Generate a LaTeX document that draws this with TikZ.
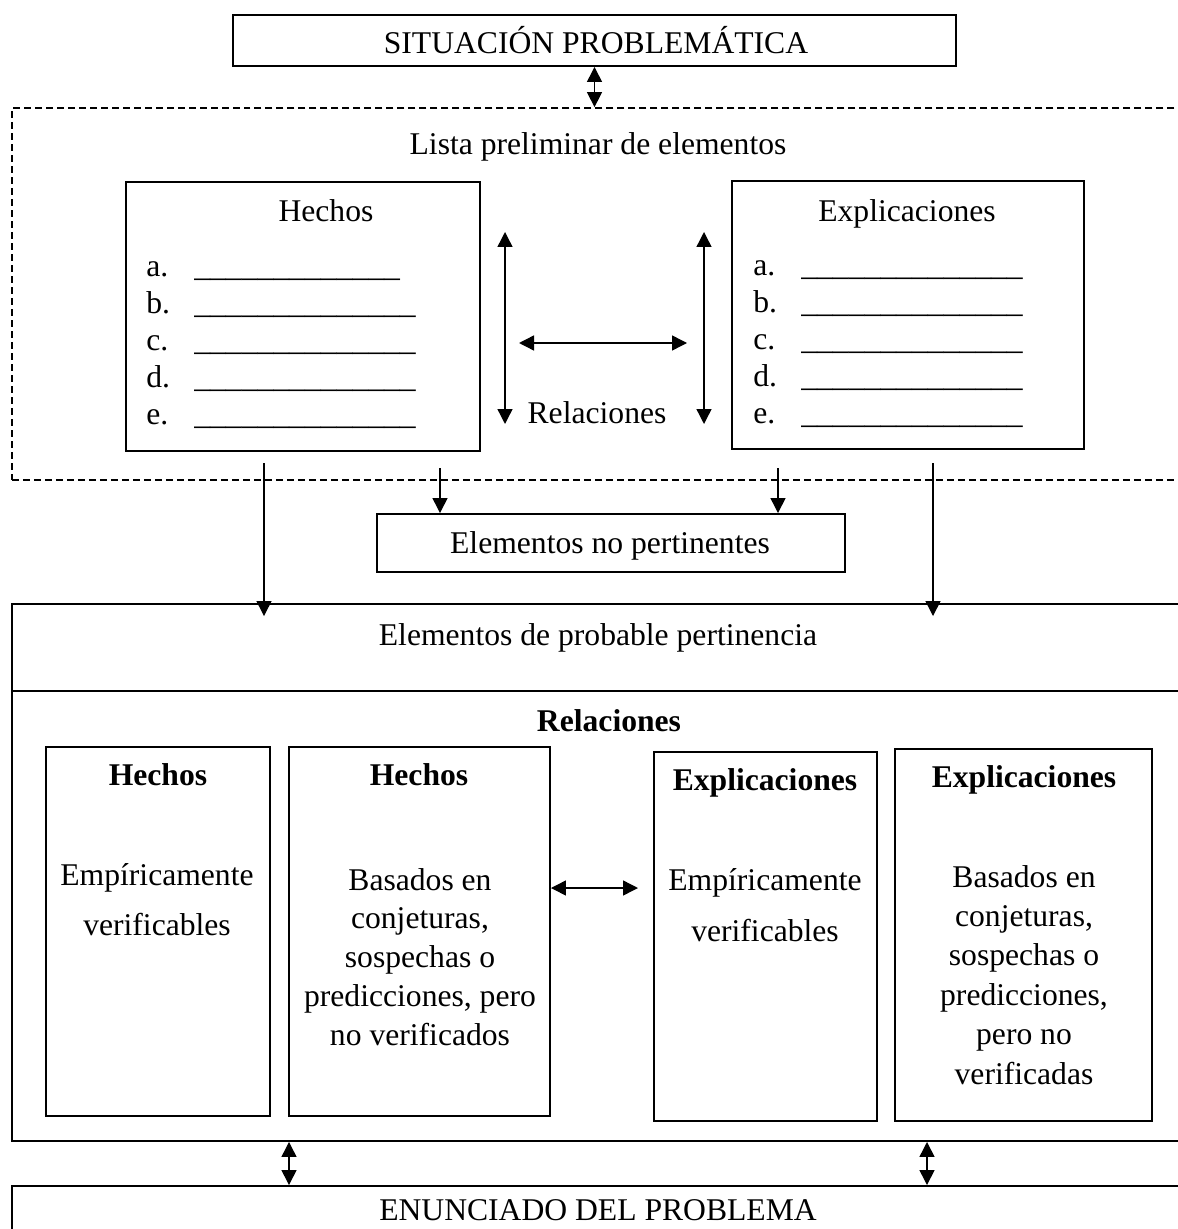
\documentclass[tikz,border=0pt]{standalone}
\usepackage{fontspec}
\setmainfont{Liberation Serif}
\usetikzlibrary{arrows.meta,positioning,fit}
\newcommand{\letra}[1][21pt]{\fontsize{18pt}{#1}\selectfont}
\newcommand{\renglon}[1]{\makebox[0.96cm][l]{#1.}}
\newcommand{\raya}{\_\_\_\_\_\_\_\_\_\_\_\_\_\_}
\tikzset{
  borde/.style={line width=1.1pt},
  caja/.style={draw, borde, inner sep=0pt},
  marco/.style={draw, line width=1pt, dash pattern=on 0.14cm off 0.08cm, inner sep=0pt},
  txt/.style={font=\letra, inner sep=0pt, anchor=base},
  flecha/.style={-{Triangle[length=0.3cm,width=0.3cm]}, line width=0.8pt},
  dflecha/.style={{Triangle[length=0.3cm,width=0.3cm]}-{Triangle[length=0.3cm,width=0.3cm]}, line width=0.8pt}
}

\begin{document}
\begin{tikzpicture}[x=0.02cm, y=-0.02cm]
  \useasboundingbox (0,0) rectangle (1177,1229);

  %--- Situacion problematica ---
  \node[caja, fit={(233,15) (956,66)}] (situacion) {};
  \node[txt] (tsituacion) at (596,54) {SITUACIÓN PROBLEMÁTICA};

  %--- Lista preliminar de elementos ---
  \node[marco, fit={(12,108) (1210,480)}] (lista) {};
  \node[txt] (tlista) at (598,155) {Lista preliminar de elementos};
  \draw[dflecha] (situacion.south) -- (situacion.south |- lista.north);

  % Hechos
  \node[caja, fit={(126,182) (480,451)}] (hechos) {};
  \node[txt] (thechos) at (326,222) {Hechos};
  \node[txt, anchor=base west, align=left, font={\letra[21pt]}] (lhechos) at (146,424)
    {\renglon{a}\_\_\_\_\_\_\_\_\_\_\_\_\_\\ \renglon{b}\raya\\ \renglon{c}\raya\\ \renglon{d}\raya\\ \renglon{e}\raya};

  % Explicaciones
  \node[caja, fit={(732,181) (1084,449)}] (explic) {};
  \node[txt] (texplic) at (907,222) {Explicaciones};
  \node[txt, anchor=base west, align=left, font={\letra[21pt]}] (lexplic) at (753,423)
    {\renglon{a}\raya\\ \renglon{b}\raya\\ \renglon{c}\raya\\ \renglon{d}\raya\\ \renglon{e}\raya};

  % Relaciones
  \coordinate (ra1) at (505,232);
  \coordinate (ra2) at (505,424);
  \coordinate (rb1) at (704,232);
  \coordinate (rb2) at (704,424);
  \coordinate (rc1) at (519,343);
  \coordinate (rc2) at (687,343);
  \draw[dflecha] (ra1) -- (ra2);
  \draw[dflecha] (rb1) -- (rb2);
  \draw[dflecha] (rc1) -- (rc2);
  \node[txt] (trel) at (597,423) {Relaciones};

  %--- Elementos no pertinentes ---
  \node[caja, fit={(377,514) (845,572)}] (nopert) {};
  \node[txt] (tnopert) at (610,553) {Elementos no pertinentes};

  %--- Elementos de probable pertinencia ---
  \node[caja, fit={(12,604) (1210,1141)}] (prob) {};
  \coordinate (div) at (12,691);
  \draw[borde] (div) -- (div -| prob.east);
  \node[txt] (tprob) at (598,645) {Elementos de probable pertinencia};
  \node[txt, font=\letra\bfseries] (trelb) at (609,731) {Relaciones};

  \coordinate (bajaA) at (264,463);
  \coordinate (bajaB) at (440,468);
  \coordinate (bajaC) at (778,468);
  \coordinate (bajaD) at (933,463);
  \draw[flecha] (bajaA) -- ([yshift=-0.26cm]bajaA |- prob.north);
  \draw[flecha] (bajaB) -- (bajaB |- nopert.north);
  \draw[flecha] (bajaC) -- (bajaC |- nopert.north);
  \draw[flecha] (bajaD) -- ([yshift=-0.26cm]bajaD |- prob.north);

  % cuatro cajas
  \node[caja, fit={(46,747) (270,1116)}] (b1) {};
  \node[caja, fit={(289,747) (550,1116)}] (b2) {};
  \node[caja, fit={(654,752) (877,1121)}] (b3) {};
  \node[caja, fit={(895,749) (1152,1121)}] (b4) {};

  \node[txt, font=\letra\bfseries] (tb1) at (158,785) {Hechos};
  \node[txt, font=\letra\bfseries] (tb2) at (419,785) {Hechos};
  \node[txt, font=\letra\bfseries] (tb3) at (765,790) {Explicaciones};
  \node[txt, font=\letra\bfseries] (tb4) at (1024,787) {Explicaciones};

  \node[txt, align=center, font={\letra[27.9pt]}] (cb1) at (157,935) {Empíricamente\\verificables};
  \node[txt, align=center, font={\letra[22.05pt]}] (cb2) at (420,1045) {Basados en\\conjeturas,\\sospechas o\\predicciones, pero\\no verificados};
  \node[txt, align=center, font={\letra[29pt]}] (cb3) at (765,941) {Empíricamente\\verificables};
  \node[txt, align=center, font={\letra[22.4pt]}] (cb4) at (1024,1084) {Basados en\\conjeturas,\\sospechas o\\predicciones,\\pero no\\verificadas};

  \coordinate (rel2) at (638,888);
  \draw[dflecha] (b2.east |- rel2) -- (rel2);

  %--- Enunciado del problema ---
  \node[caja, fit={(12,1186) (1210,1260)}] (enun) {};
  \node[txt] (tenun) at (598,1220) {ENUNCIADO DEL PROBLEMA};

  \coordinate (xa) at (289,0);
  \coordinate (xb) at (927,0);
  \draw[dflecha] (prob.south -| xa) -- (enun.north -| xa);
  \draw[dflecha] (prob.south -| xb) -- (enun.north -| xb);
\end{tikzpicture}
\end{document}
